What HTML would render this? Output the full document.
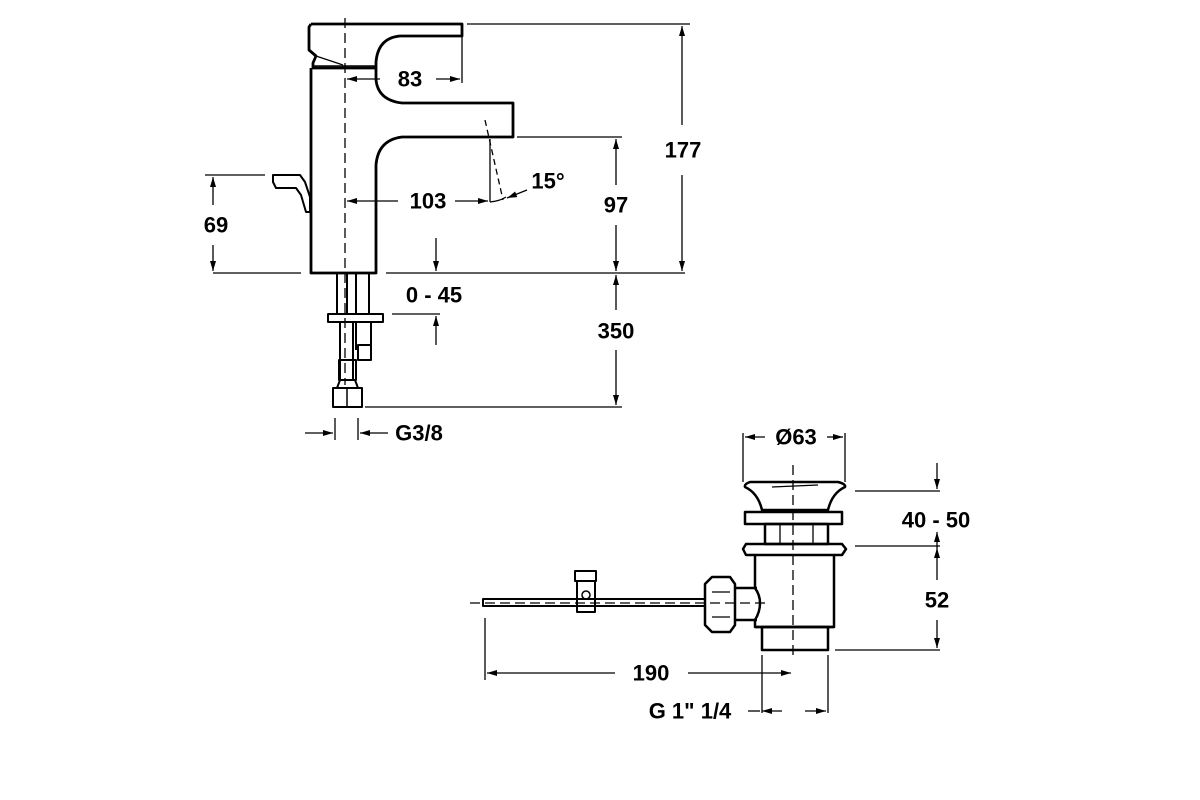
<!DOCTYPE html>
<html><head><meta charset="utf-8"><style>
html,body{margin:0;padding:0;background:#fff;}
svg{display:block}
text{font-family:"Liberation Sans",Arial,sans-serif;font-weight:bold;font-size:22px;fill:#000;text-anchor:middle;dominant-baseline:central}
</style></head><body>
<svg width="1200" height="800" viewBox="0 0 1200 800" xmlns="http://www.w3.org/2000/svg">
<defs>
<marker id="a" viewBox="0 0 10 6" refX="10" refY="3" markerWidth="10" markerHeight="6" orient="auto" markerUnits="userSpaceOnUse"><path d="M0,0 L10,3 L0,6 z" fill="#000"/></marker>
</defs>
<g fill="none" stroke="#000" stroke-width="2.8" stroke-linejoin="round">
<path d="M311,24 L462,24 L462,36 L400,36 Q378,38 376,62 L376,80 Q378,100 402,103 L513,103 L513,137 L402,137 Q378,140 376,165 L376,273 L311,273 L311,68"/>
<path d="M311,24 L309,27 L309,50 L316,56 L313,63 L313,68 L375,68"/>
<path d="M316,56 L343,65" stroke-width="1.2"/>
<line x1="313" y1="66" x2="375" y2="66" stroke-width="1.5"/>
<path d="M273,175 L300,175 L305,182 L310,197 L310,212 L306,212 L301,195 L296,188 L276,188 L273,182 Z" stroke-width="2"/>
<path d="M337,273 V314 M347,273 V314 M356,273 V314 M369,273 V314" stroke-width="2"/>
<rect x="328" y="314" width="55" height="8" stroke-width="2"/>
<path d="M340,322 V380 M353,322 V380 M356,322 V350 M371,322 V350" stroke-width="2"/>
<rect x="358" y="345" width="13" height="15" stroke-width="2"/>
<rect x="339" y="360" width="17" height="20" stroke-width="2"/>
<rect x="333" y="388" width="29" height="19" stroke-width="2"/>
<path d="M340,380 L337,388 M355,380 L358,388" stroke-width="2"/>
<line x1="347" y1="388" x2="347" y2="407" stroke-width="1.5"/>
</g>
<g fill="none" stroke="#000" stroke-width="1.3">
<line x1="345" y1="18" x2="345" y2="385" stroke-dasharray="10,5"/>
<line x1="213" y1="273" x2="301" y2="273"/>
<line x1="386" y1="273" x2="685" y2="273"/>
<line x1="467" y1="24" x2="690" y2="24"/>
<line x1="517" y1="137" x2="622" y2="137"/>
<line x1="365" y1="407" x2="622" y2="407"/>
<line x1="205" y1="175" x2="265" y2="175"/>
<line x1="392" y1="314" x2="440" y2="314"/>
<line x1="462" y1="36" x2="462" y2="83"/>
<line x1="380" y1="79" x2="347" y2="79" marker-end="url(#a)"/>
<line x1="436" y1="79" x2="460" y2="79" marker-end="url(#a)"/>
<line x1="682" y1="125" x2="682" y2="26" marker-end="url(#a)"/>
<line x1="682" y1="175" x2="682" y2="271" marker-end="url(#a)"/>
<line x1="616" y1="185" x2="616" y2="139" marker-end="url(#a)"/>
<line x1="616" y1="225" x2="616" y2="271" marker-end="url(#a)"/>
<line x1="616" y1="310" x2="616" y2="275" marker-end="url(#a)"/>
<line x1="616" y1="350" x2="616" y2="405" marker-end="url(#a)"/>
<line x1="213" y1="205" x2="213" y2="177" marker-end="url(#a)"/>
<line x1="213" y1="245" x2="213" y2="271" marker-end="url(#a)"/>
<line x1="398" y1="201" x2="347" y2="201" marker-end="url(#a)"/>
<line x1="455" y1="201" x2="488" y2="201" marker-end="url(#a)"/>
<line x1="490" y1="139" x2="490" y2="202"/>
<line x1="485" y1="120" x2="503" y2="200" stroke-dasharray="6,4"/>
<path d="M490,202 Q500,201 506,197"/>
<line x1="527" y1="190" x2="507" y2="198" marker-end="url(#a)"/>
<line x1="436" y1="238" x2="436" y2="271" marker-end="url(#a)"/>
<line x1="436" y1="345" x2="436" y2="316" marker-end="url(#a)"/>
<line x1="335" y1="418" x2="335" y2="440"/>
<line x1="358" y1="418" x2="358" y2="440"/>
<line x1="305" y1="433" x2="333" y2="433" marker-end="url(#a)"/>
<line x1="388" y1="433" x2="360" y2="433" marker-end="url(#a)"/>
</g>
<text x="410" y="79">83</text>
<text x="683" y="150">177</text>
<text x="616" y="205">97</text>
<text x="616" y="331">350</text>
<text x="216" y="225">69</text>
<text x="428" y="201">103</text>
<text x="548" y="181">15°</text>
<text x="434" y="295">0 - 45</text>
<text x="419" y="433">G3/8</text>

<g fill="none" stroke="#000" stroke-width="2.5" stroke-linejoin="round">
<path d="M745,487 Q744,484 750,482 L838,482 Q846,484 845,487 Q832,493 828,510 L762,510 Q758,493 745,487 Z"/>
<rect x="745" y="512" width="97" height="12"/>
<rect x="765" y="524" width="63" height="20"/>
<path d="M746,544 L842,544 L846,549 L842,555 L746,555 L743,549 Z"/>
<path d="M755,555 V588 Q760,595 760,603 Q760,612 755,620 V627 H834 V555"/>
<rect x="762" y="627" width="66" height="23"/>
<line x1="755" y1="627" x2="834" y2="627"/>
<path d="M735,588 H757 M735,620 H757"/>
<path d="M705,584 L712,577 L730,577 L735,584 V625 L730,632 L712,632 L705,625 Z"/>
<rect x="483" y="599" width="222" height="7" stroke-width="2"/>
<rect x="577" y="581" width="18" height="31" stroke-width="2"/>
<rect x="575" y="571" width="21" height="10" stroke-width="2"/>
<circle cx="586" cy="595" r="4" stroke-width="1.5"/>
</g>
<g fill="none" stroke="#000" stroke-width="1.3">
<path d="M772,487 L818,485 M780,524 V544 M813,524 V544 M712,592 H730 M712,617 H730"/>
<line x1="793" y1="465" x2="793" y2="660" stroke-dasharray="10,5"/>
<line x1="470" y1="603" x2="770" y2="603" stroke-dasharray="10,5"/>
<line x1="743" y1="433" x2="743" y2="482"/>
<line x1="845" y1="433" x2="845" y2="482"/>
<line x1="765" y1="437" x2="745" y2="437" marker-end="url(#a)"/>
<line x1="827" y1="437" x2="843" y2="437" marker-end="url(#a)"/>
<line x1="855" y1="491" x2="940" y2="491"/>
<line x1="855" y1="546" x2="940" y2="546"/>
<line x1="835" y1="650" x2="940" y2="650"/>
<line x1="937" y1="463" x2="937" y2="489" marker-end="url(#a)"/>
<line x1="937" y1="532" x2="937" y2="548" marker-end="url(#a)" transform="rotate(180 937 540)"/>
<line x1="937" y1="580" x2="937" y2="548" marker-end="url(#a)"/>
<line x1="937" y1="620" x2="937" y2="648" marker-end="url(#a)"/>
<line x1="485" y1="618" x2="485" y2="680"/>
<line x1="615" y1="673" x2="487" y2="673" marker-end="url(#a)"/>
<line x1="688" y1="673" x2="791" y2="673" marker-end="url(#a)"/>
<line x1="762" y1="655" x2="762" y2="713"/>
<line x1="828" y1="655" x2="828" y2="713"/>
<line x1="748" y1="711" x2="760" y2="711"/>
<line x1="762" y1="711" x2="782" y2="711" marker-end="url(#a)" transform="rotate(180 772 711)"/>
<line x1="805" y1="711" x2="826" y2="711" marker-end="url(#a)"/>
</g>
<text x="796" y="437">Ø63</text>
<text x="936" y="520">40 - 50</text>
<text x="937" y="600">52</text>
<text x="651" y="673">190</text>
<text x="690" y="711">G 1" 1/4</text>
</svg>
</body></html>
